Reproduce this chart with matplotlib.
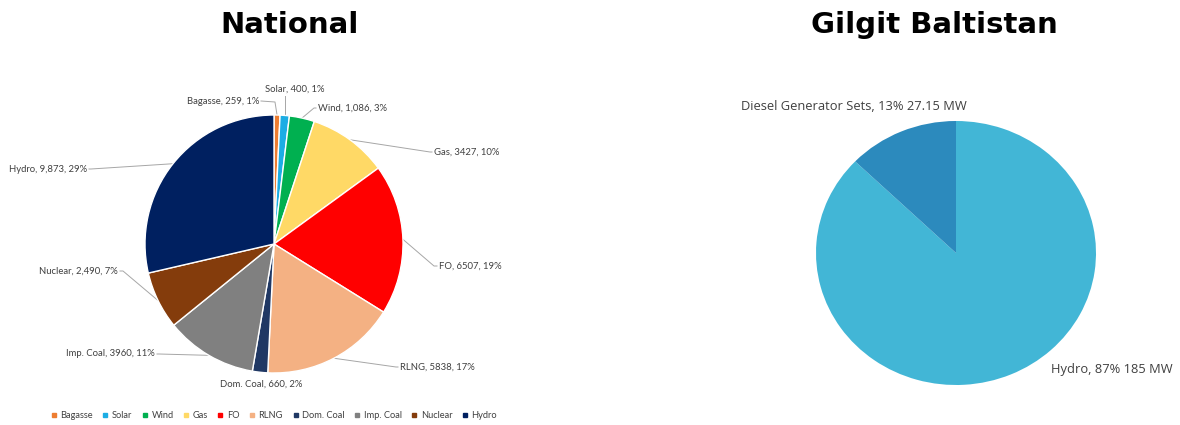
import matplotlib
matplotlib.use("Agg")
import matplotlib.pyplot as plt
import numpy as np
from matplotlib.lines import Line2D

# ---------------- data ----------------
nat_labels = ["Bagasse", "Solar", "Wind", "Gas", "FO", "RLNG", "Dom. Coal", "Imp. Coal", "Nuclear", "Hydro"]
nat_values = [259, 400, 1086, 3427, 6507, 5838, 660, 3960, 2490, 9873]
nat_value_text = ["259", "400", "1,086", "3427", "6507", "5838", "660", "3960", "2,490", "9,873"]
nat_pct_text = ["1%", "1%", "3%", "10%", "19%", "17%", "2%", "11%", "7%", "29%"]
nat_colors = ["#ED7D31", "#1CADE4", "#00B050", "#FFD966", "#FF0000", "#F4B183",
              "#203864", "#808080", "#843C0C", "#002060"]

gb_labels = ["Hydro", "Diesel Generator Sets"]
gb_values = [185, 27.15]
gb_text = ["Hydro, 87% 185 MW", "Diesel Generator Sets, 13% 27.15 MW"]
gb_colors = ["#42B6D6", "#2C8ABD"]

W, H = 1180, 425
fig = plt.figure(figsize=(W / 100, H / 100), dpi=100)
fig.patch.set_facecolor("white")

base = fig.add_axes([0, 0, 1, 1])
base.set_xlim(0, W)
base.set_ylim(H, 0)
base.axis("off")

def box(cx, cy, rx, ry):
    return [(cx - rx) / W, (H - cy - ry) / H, 2 * rx / W, 2 * ry / H]

# ---------------- National pie ----------------
cx1, cy1, r1 = 274, 244, 129
ax1 = fig.add_axes(box(cx1, cy1, r1, r1))
wedges1, _ = ax1.pie(nat_values, colors=nat_colors, startangle=90, counterclock=False,
                     radius=1, wedgeprops=dict(edgecolor="white", linewidth=1.0))
ax1.set_xlim(-1, 1)
ax1.set_ylim(-1, 1)
ax1.set_aspect("auto")
ax1.axis("off")

# label anchor positions (pixel coords), alignment, elbow points
lab_pos = {
    "Bagasse": (259, 101, "right", (275, 102)),
    "Solar": (295, 89, "center", (285, 96)),
    "Wind": (318, 108, "left", (314, 108)),
    "Gas": (434, 152, "left", (430, 152)),
    "FO": (439, 266, "left", (434, 266)),
    "RLNG": (400, 367, "left", (396, 367)),
    "Dom. Coal": (261, 384, "center", None),
    "Imp. Coal": (155, 354, "right", (159, 354)),
    "Nuclear": (118, 271, "right", (123, 271)),
    "Hydro": (87, 169, "right", (91, 169)),
}
line_col = "#A6A6A6"
for w, lab, vt, pt in zip(wedges1, nat_labels, nat_value_text, nat_pct_text):
    a = np.deg2rad((w.theta1 + w.theta2) / 2)
    ex = cx1 + r1 * np.cos(a)
    ey = cy1 - r1 * np.sin(a)
    tx, ty, ha, elbow = lab_pos[lab]
    base.text(tx, ty, f"{lab}, {vt}, {pt}", ha=ha, va="center", fontsize=6.8,
              family="Lato", color="#404040")
    if elbow is not None:
        if lab == "Solar":
            base.plot([ex, ex], [ey, elbow[1]], color=line_col, lw=0.7)
        else:
            base.plot([ex, elbow[0], tx + (-2 if ha == "left" else 2)], [ey, elbow[1], ty],
                      color=line_col, lw=0.7)

# legend
handles = [Line2D([0], [0], marker="s", color="none", markerfacecolor=c, markeredgecolor=c,
                  markersize=3.2) for c in nat_colors]
leg = fig.legend(handles, nat_labels, loc="center", bbox_to_anchor=(274 / W, 1 - 416 / H),
                 ncol=10, frameon=False, handlelength=0.6, handletextpad=0.4,
                 columnspacing=1.05, prop=dict(family="Lato", size=6.7))
for t in leg.get_texts():
    t.set_color("#404040")

# ---------------- Gilgit Baltistan pie ----------------
cx2, cy2, rx2, ry2 = 956, 253, 140, 132
ax2 = fig.add_axes(box(cx2, cy2, rx2, ry2))
ax2.pie(gb_values, colors=gb_colors, startangle=90, counterclock=False, radius=1,
        wedgeprops=dict(linewidth=0))
ax2.set_xlim(-1, 1)
ax2.set_ylim(-1, 1)
ax2.set_aspect("auto")
ax2.axis("off")

base.text(741, 106, gb_text[1], ha="left", va="center", fontsize=9.3,
          family="Open Sans", color="#404040")
base.text(1051, 369, gb_text[0], ha="left", va="center", fontsize=9.3,
          family="Open Sans", color="#404040")

# ---------------- titles ----------------
base.text(290, 25, "National", ha="center", va="center", fontsize=21,
          fontweight="bold", family="DejaVu Sans", color="black")
base.text(934, 25, "Gilgit Baltistan", ha="center", va="center", fontsize=21,
          fontweight="bold", family="DejaVu Sans", color="black")

fig.savefig("out.png", dpi=100, facecolor="white")
